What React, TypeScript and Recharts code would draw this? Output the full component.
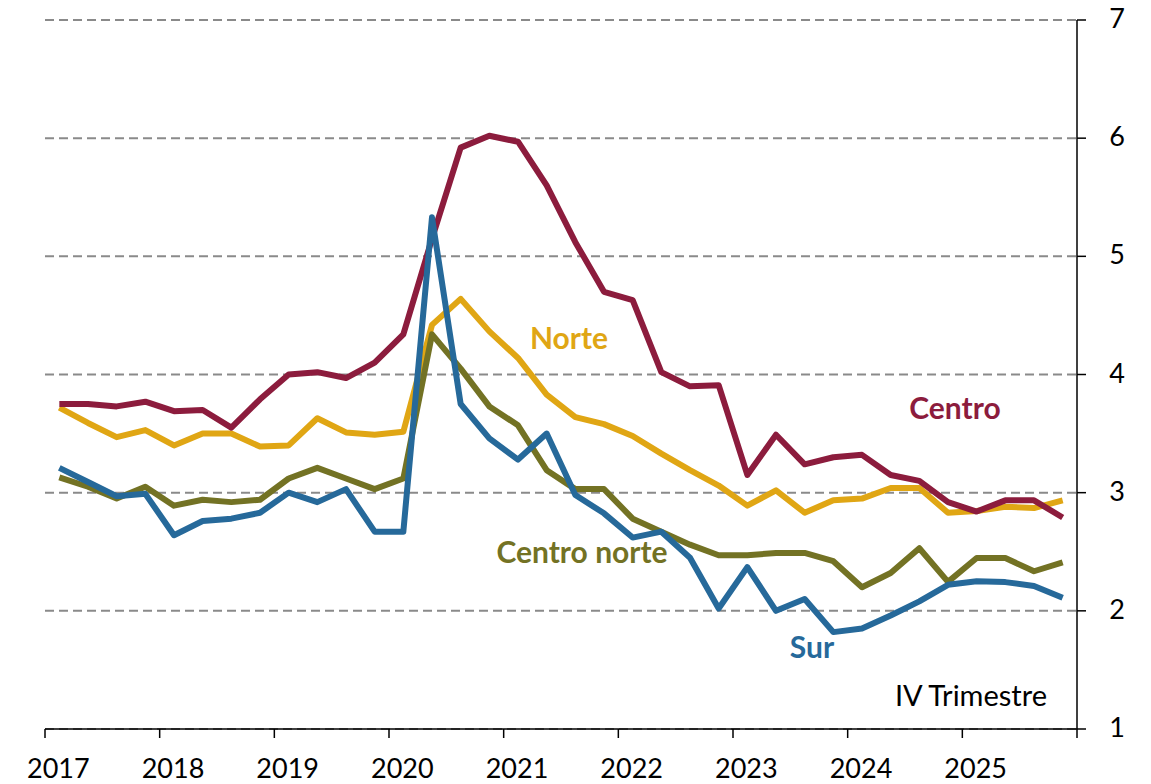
import { LineChart, Line, XAxis, YAxis, CartesianGrid } from "recharts";

// años en el eje x (4 trimestres cada uno)
const years = ["2017", "2018", "2019", "2020", "2021", "2022", "2023", "2024", "2025"];
const quarters = ["I", "II", "III", "IV"];

const centro = [3.75, 3.75, 3.73, 3.77, 3.69, 3.7, 3.55, 3.79, 4.0, 4.02, 3.97, 4.1, 4.34, 5.15, 5.92, 6.02, 5.97, 5.6, 5.12, 4.7, 4.63, 4.02, 3.9, 3.91, 3.15, 3.49, 3.24, 3.3, 3.32, 3.15, 3.1, 2.92, 2.84, 2.935, 2.935, 2.79];
const norte = [3.72, 3.59, 3.47, 3.53, 3.4, 3.5, 3.5, 3.39, 3.4, 3.63, 3.51, 3.49, 3.515, 4.42, 4.64, 4.365, 4.14, 3.83, 3.64, 3.58, 3.48, 3.33, 3.19, 3.06, 2.89, 3.02, 2.83, 2.935, 2.95, 3.04, 3.04, 2.83, 2.845, 2.88, 2.87, 2.935];
const centroNorte = [3.13, 3.05, 2.95, 3.05, 2.89, 2.94, 2.92, 2.94, 3.12, 3.21, 3.12, 3.03, 3.12, 4.34, 4.05, 3.73, 3.57, 3.19, 3.03, 3.03, 2.78, 2.67, 2.56, 2.47, 2.47, 2.49, 2.49, 2.42, 2.2, 2.32, 2.53, 2.245, 2.447, 2.447, 2.335, 2.41];
const sur = [3.21, 3.09, 2.97, 2.99, 2.64, 2.76, 2.78, 2.83, 3.0, 2.92, 3.03, 2.67, 2.67, 5.33, 3.75, 3.46, 3.28, 3.5, 2.98, 2.825, 2.62, 2.67, 2.45, 2.02, 2.37, 2.0, 2.1, 1.82, 1.85, 1.96, 2.08, 2.22, 2.25, 2.243, 2.21, 2.11];

const yTicks = [1, 2, 3, 4, 5, 6, 7];

const data = centro.map((v, i) => ({
  x: i + 0.5,
  label: `${years[Math.floor(i / 4)]}-${quarters[i % 4]}`,
  centro: v,
  norte: norte[i],
  centroNorte: centroNorte[i],
  sur: sur[i],
}));

const xTicks = years.map((_, i) => i * 4).concat([years.length * 4]);

const W = 1151;
const H = 784;
const MARGIN = { top: 20, right: 0, left: 45, bottom: 0 };
const Y_AXIS_W = 74;
const X_AXIS_H = 55;
const HALF_Q = (W - MARGIN.left - Y_AXIS_W) / (years.length * 4) / 2;

const FONT = "Lato, 'Open Sans', sans-serif";
const C_CENTRO = "#8C1C3D";
const C_NORTE = "#E0A614";
const C_CNORTE = "#737224";
const C_SUR = "#26699A";
const LW = 6;

function YearTick(props: any) {
  const { x, y, payload } = props;
  const idx = payload.value / 4;
  if (idx >= years.length) return <g />;
  return (
    <text x={x + HALF_Q - 1} y={y + 38} textAnchor="middle" fontFamily={FONT} fontSize={27} fill="#000">
      {years[idx]}
    </text>
  );
}

function ValueTick(props: any) {
  const { y, payload } = props;
  return (
    <text x={1117} y={y + 8} textAnchor="middle" fontFamily={FONT} fontSize={27} fill="#000">
      {payload.value}
    </text>
  );
}

export default function App() {
  return (
    <div style={{ position: "fixed", left: 0, top: 0, width: W, height: H, background: "#fff" }}>
      <LineChart width={W} height={H} data={data} margin={MARGIN}>
        <CartesianGrid vertical={false} stroke="#8a8a8a" strokeWidth={2} strokeDasharray="9 5" />
        <XAxis
          dataKey="x"
          type="number"
          domain={[0, years.length * 4]}
          ticks={xTicks}
          interval={0}
          height={X_AXIS_H}
          tickSize={9}
          axisLine={{ stroke: "#000", strokeWidth: 1.5 }}
          tickLine={{ stroke: "#000", strokeWidth: 1.5 }}
          tick={<YearTick />}
          allowDataOverflow
        />
        <YAxis
          orientation="right"
          domain={[1, 7]}
          ticks={yTicks}
          interval={0}
          width={Y_AXIS_W}
          tickSize={9}
          axisLine={{ stroke: "#000", strokeWidth: 1.5 }}
          tickLine={{ stroke: "#000", strokeWidth: 1.5 }}
          tick={<ValueTick />}
        />
        <Line dataKey="norte" stroke={C_NORTE} strokeWidth={LW} dot={false} strokeLinejoin="round" isAnimationActive={false} />
        <Line dataKey="centroNorte" stroke={C_CNORTE} strokeWidth={LW} dot={false} strokeLinejoin="round" isAnimationActive={false} />
        <Line dataKey="centro" stroke={C_CENTRO} strokeWidth={LW} dot={false} strokeLinejoin="round" isAnimationActive={false} />
        <Line dataKey="sur" stroke={C_SUR} strokeWidth={LW} dot={false} strokeLinejoin="round" isAnimationActive={false} />

        <text x={569} y={349} textAnchor="middle" fontFamily={FONT} fontWeight="bold" fontSize={30} fill={C_NORTE}>Norte</text>
        <text x={955} y={419} textAnchor="middle" fontFamily={FONT} fontWeight="bold" fontSize={30} fill={C_CENTRO}>Centro</text>
        <text x={582} y={563} textAnchor="middle" fontFamily={FONT} fontWeight="bold" fontSize={30} fill={C_CNORTE}>Centro norte</text>
        <text x={812} y={658} textAnchor="middle" fontFamily={FONT} fontWeight="bold" fontSize={30} fill={C_SUR}>Sur</text>
        <text x={1047} y={706} textAnchor="end" fontFamily={FONT} fontSize={29} fill="#000">IV Trimestre</text>
      </LineChart>
    </div>
  );
}
